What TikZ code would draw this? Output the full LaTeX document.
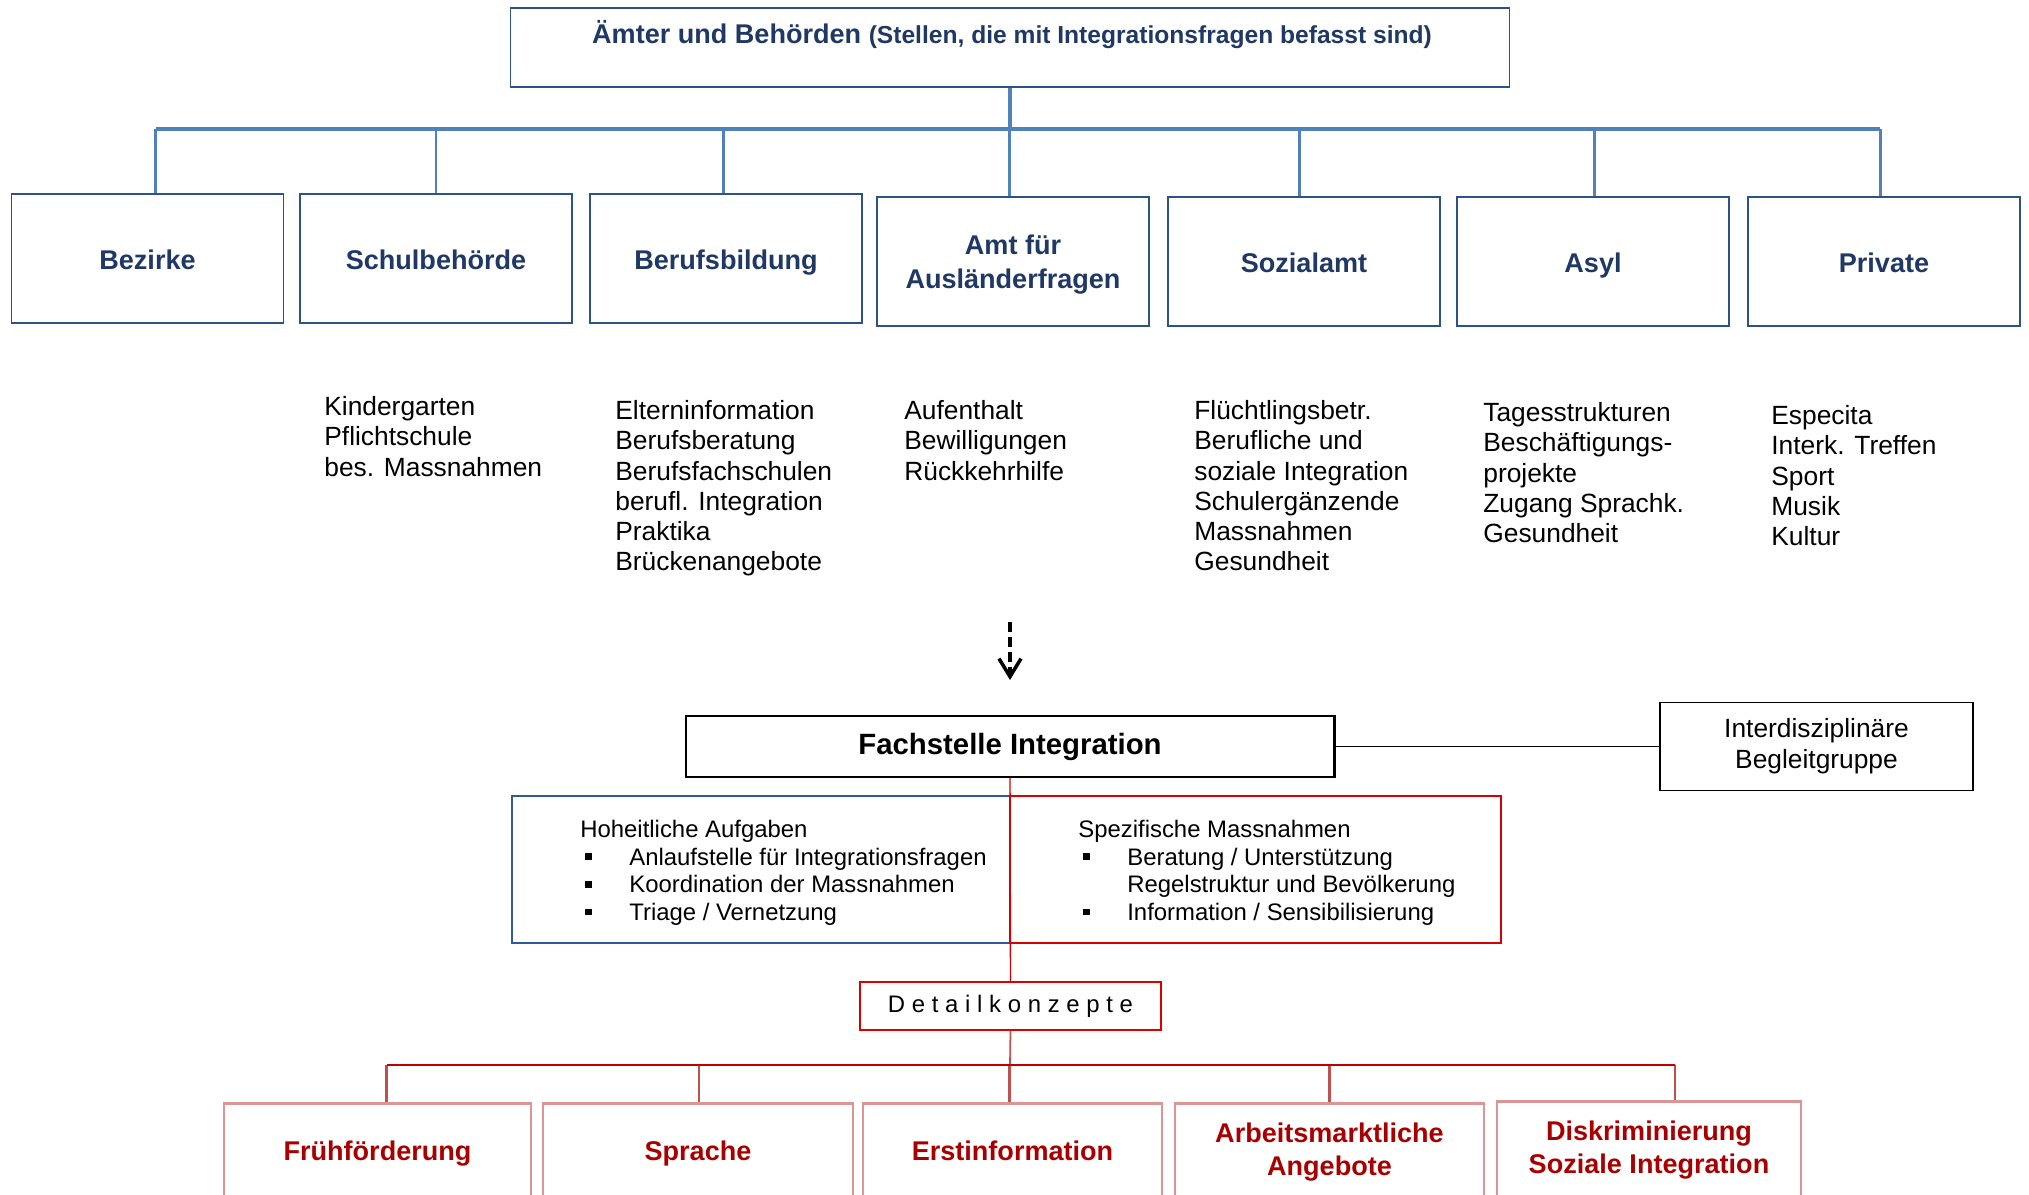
\documentclass[tikz,border=0pt]{standalone}
\usepackage{fontspec}
\setmainfont{Liberation Sans}
\usetikzlibrary{arrows.meta, positioning, calc}

\definecolor{busblue}{HTML}{4F81BD}
\definecolor{frameblue}{HTML}{2F5285}
\definecolor{textblue}{HTML}{1F3864}
\definecolor{taskblue}{HTML}{2E5B97}
\definecolor{taskred}{HTML}{D80000}
\definecolor{busred}{HTML}{C00000}
\definecolor{dropred}{HTML}{C0504D}
\definecolor{framepink}{HTML}{D99694}
\definecolor{textred}{HTML}{A80000}

\newcommand{\sqbullet}{\makebox[0.98cm][l]{\hspace{0.1cm}\rule[0.22em]{0.13cm}{0.13cm}}}
\newcommand{\sqindent}{\makebox[0.98cm]{}}

\begin{document}
\begin{tikzpicture}[
    x=0.02cm, y=-0.02cm,
    office/.style={rectangle, draw=frameblue, line width=0.8pt, minimum width=5.44cm, minimum height=2.58cm, inner sep=0pt, align=center, text=textblue, font=\fontsize{15.4}{19}\selectfont\bfseries, execute at begin node={\rule[-5.7pt]{0pt}{23.5pt}}},
    duties/.style={anchor=north west, inner sep=0pt, align=left, font=\fontsize{15}{17.25}\selectfont},
    tasks/.style={anchor=north west, inner sep=0pt, align=left, font=\fontsize{13.6}{15.7}\selectfont},
    field/.style={rectangle, draw=framepink, line width=0.8pt, minimum height=2cm, inner sep=0pt, align=center, text=textred, font=\fontsize{15.4}{18.8}\selectfont\bfseries, execute at begin node=\strut},
    bluebar/.style={draw=busblue, line width=2.8pt},
    bluedrop/.style={draw=busblue, line width=1.7pt},
    redbar/.style={draw=busred, line width=1.4pt},
    reddrop/.style={draw=dropred, line width=1.4pt},
    arrow/.style={-{Straight Barb[length=0.36cm, width=0.44cm, line width=2pt]}, line width=2.2pt, dash pattern=on 0.2cm off 0.1cm}
]
    \useasboundingbox (0,0) rectangle (2029,1195);

    % Header box
    \node[rectangle, draw=frameblue, line width=0.8pt, minimum width=19.98cm, minimum height=1.58cm] (top) at (1010,47.5) {};
    \node[text=textblue, font=\fontsize{15.4}{18}\selectfont\bfseries] (title) at ($(top.north)+(2,27)$)
        {Ämter und Behörden {\fontsize{14}{16}\selectfont (Stellen, die mit Integrationsfragen befasst sind)}};

    % --- Offices ---
    \node[office] (bez) at (147.5,258.5) {Bezirke};
    \node[office] (sch) at (436,258.5) {Schulbehörde};
    \node[office] (ber) at (726,258.5) {Berufsbildung};
    \node[office] (amt) at (1013,261.5) {};
    \node[text=textblue, align=center, font=\fontsize{15.4}{19.3}\selectfont\bfseries] (amttext) at ($(amt)+(0,3)$) {Amt für\\Ausländerfragen};
    \node[office] (soz) at (1304,261.5) {Sozialamt};
    \node[office] (asy) at (1593,261.5) {Asyl};
    \node[office] (pri) at (1884,261.5) {Private};

    \coordinate (bluebus) at (1010,129);
    \draw[bluedrop, line width=2.3pt] (top.south) -- (bluebus);
    \foreach \n/\dx in {bez/8, sch/0, ber/-3, amt/-4, soz/-5, asy/1, pri/-4}
        \draw[bluedrop] ($(\n.north)+(\dx,0)$) coordinate (\n-top) -- (\n-top |- bluebus);
    \draw[bluebar] (bez-top |- bluebus) -- (pri-top |- bluebus);

    % Duties of each office
    \node[duties] (schlist) at (324,396) {Kindergarten\\Pflichtschule\\bes. Massnahmen};
    \node[duties] (berlist) at (615,400) {Elterninformation\\Berufsberatung\\Berufsfachschulen\\berufl. Integration\\Praktika\\Brückenangebote};
    \node[duties] (amtlist) at (904,400) {Aufenthalt\\Bewilligungen\\Rückkehrhilfe};
    \node[duties] (sozlist) at (1194,400) {Flüchtlingsbetr.\\Berufliche und\\soziale Integration\\Schulergänzende\\Massnahmen\\Gesundheit};
    \node[duties] (asylist) at (1483,402) {Tagesstrukturen\\Beschäftigungs-\\projekte\\Zugang Sprachk.\\Gesundheit};
    \node[duties] (prilist) at (1771,405) {Especita\\Interk. Treffen\\Sport\\Musik\\Kultur};

    % Dashed arrow
    \coordinate (arrS) at (1010,622);
    \coordinate (arrE) at (1010,680);
    \draw[arrow] (arrS) -- (arrE);

    % --- Fachstelle ---
    \node[rectangle, draw, line width=1.2pt, minimum width=12.98cm, minimum height=1.22cm, font=\fontsize{16.7}{20}\selectfont\bfseries] (fach) at (1010,746.5) {Fachstelle Integration};
    \node[rectangle, draw, line width=0.8pt, minimum width=6.26cm, minimum height=1.76cm, align=center, font=\fontsize{15}{17.6}\selectfont] (inter) at (1816.5,746.5) {Interdisziplinäre\\Begleitgruppe};
    \draw[line width=1.1pt] (fach.east) -- (inter.west);

    % Tasks
    \node[rectangle, draw=taskblue, line width=0.8pt, minimum width=9.96cm, minimum height=2.94cm] (hoh) at (761,869.5) {};
    \node[rectangle, draw=taskred, line width=0.8pt, minimum width=9.82cm, minimum height=2.94cm] (spz) at (1255.5,869.5) {};
    \node[tasks] (hohtext) at (580,820) {Hoheitliche Aufgaben\\
        \sqbullet Anlaufstelle für Integrationsfragen\\
        \sqbullet Koordination der Massnahmen\\
        \sqbullet Triage / Vernetzung};
    \node[tasks] (spztext) at (1078,820) {Spezifische Massnahmen\\
        \sqbullet Beratung / Unterstützung\\
        \sqindent Regelstruktur und Bevölkerung\\
        \sqbullet Information / Sensibilisierung};

    % Detailkonzepte
    \node[rectangle, draw=taskred, line width=0.8pt, minimum width=6.02cm, minimum height=0.96cm, font=\fontsize{13.6}{16}\selectfont\addfontfeature{LetterSpace=28}] (detail) at (1010.5,1006) {Detailkonzepte};
    \draw[draw=taskred, line width=0.8pt] (fach.south) -- (detail.north);

    % --- Fields ---
    \node[field, minimum width=6.14cm] (fru) at (377.5,1154) {Frühförderung};
    \node[field, minimum width=6.2cm] (spr) at (698,1154) {Sprache};
    \node[field, minimum width=5.98cm] (ers) at (1012.5,1154) {Erstinformation};
    \node[field, minimum width=6.18cm] (arb) at (1329.5,1154) {Arbeitsmarktliche\\Angebote};
    \node[field, minimum width=6.08cm] (dsk) at (1649,1152) {Diskriminierung\\Soziale Integration};

    \coordinate (redbus) at (1010,1065);
    \draw[reddrop, line width=1pt] (detail.south) -- (redbus);
    \foreach \n/\dx in {fru/9, spr/1, ers/-3, arb/0, dsk/26}
        \draw[reddrop] ($(\n.north)+(\dx,0)$) coordinate (\n-top) -- (\n-top |- redbus);
    \draw[redbar] (fru-top |- redbus) -- (dsk-top |- redbus);
    \foreach \n in {fru, spr, ers, arb, dsk}
        \draw[draw=framepink, line width=1.4pt] (\n.north west) -- (\n.north east);

\end{tikzpicture}
\end{document}
